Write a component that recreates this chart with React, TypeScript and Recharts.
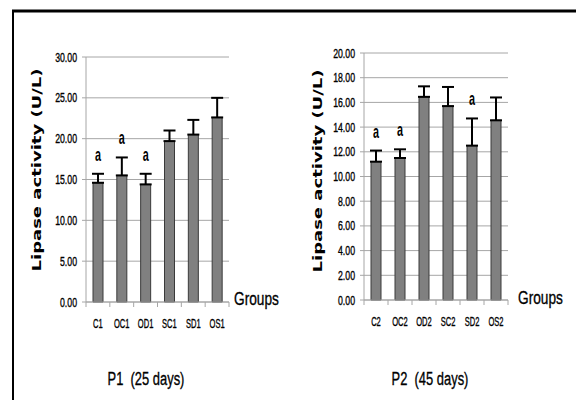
import React from "react";
import {
  BarChart,
  Bar,
  XAxis,
  YAxis,
  CartesianGrid,
  ErrorBar,
  LabelList,
} from "recharts";

const groupsP1 = ["C1", "OC1", "OD1", "SC1", "SD1", "OS1"];
const meansP1 = [14.6, 15.5, 14.4, 19.7, 20.5, 22.6];
const errsP1 = [1.1, 2.2, 1.3, 1.3, 1.8, 2.4];
const lettersP1 = ["a", "a", "a", "", "", ""];
const ticksP1 = [0, 5, 10, 15, 20, 25, 30];

const groupsP2 = ["C2", "OC2", "OD2", "SC2", "SD2", "OS2"];
const meansP2 = [11.2, 11.5, 16.45, 15.7, 12.5, 14.55];
const errsP2 = [0.9, 0.7, 0.85, 1.55, 2.2, 1.85];
const lettersP2 = ["a", "a", "", "", "a", ""];
const ticksP2 = [0, 2, 4, 6, 8, 10, 12, 14, 16, 18, 20];

const SANS = "'Liberation Sans', Arial, sans-serif";
const GRID = "#a6a6a6";

const build = (groups: string[], means: number[], errs: number[], letters: string[]) =>
  groups.map((g, i) => ({
    name: g,
    value: means[i],
    err: errs[i],
    range: [0, errs[i]],
    letter: letters[i],
  }));

const dataP1 = build(groupsP1, meansP1, errsP1, lettersP1);
const dataP2 = build(groupsP2, meansP2, errsP2, lettersP2);

// the source picture is squeezed sideways, so text is drawn narrowed
function Narrow({
  x,
  y,
  sx,
  anchor = "start",
  size,
  bold,
  children,
}: {
  x: number;
  y: number;
  sx: number;
  anchor?: "start" | "middle" | "end";
  size: number;
  bold?: boolean;
  children: React.ReactNode;
}) {
  return (
    <text
      transform={`translate(${x},${y}) scale(${sx},1)`}
      textAnchor={anchor}
      fontFamily={SANS}
      fontSize={size}
      fontWeight={bold ? "bold" : "normal"}
      fill="#000"
      stroke="#000"
      strokeWidth={bold ? 0 : 0.35}
      style={{ whiteSpace: "pre" }}
    >
      {children}
    </text>
  );
}

function makeXTick(band: number, last: string) {
  return (props: any) => {
    const { x, y, payload } = props;
    const top = y - 8;
    return (
      <g>
        <line x1={x - band / 2} x2={x - band / 2} y1={top} y2={top + 5} stroke={GRID} />
        {payload.value === last && (
          <line x1={x + band / 2} x2={x + band / 2} y1={top} y2={top + 5} stroke={GRID} />
        )}
        <Narrow x={x} y={top + 26} sx={0.58} anchor="middle" size={13}>
          {payload.value}
        </Narrow>
      </g>
    );
  };
}

const yTick = (props: any) => {
  const { x, y, payload } = props;
  return (
    <Narrow x={x} y={y + 4.5} sx={0.7} anchor="end" size={12.5}>
      {payload.value.toFixed(2)}
    </Narrow>
  );
};

function makeLetter(data: { err: number; value: number }[]) {
  return (props: any) => {
    const { x, y, width, height, value, index } = props;
    if (!value) return null;
    const d = data[index];
    const errPx = (d.err * height) / d.value;
    return (
      <Narrow x={x + width / 2} y={y - errPx - 13} sx={0.6} anchor="middle" size={18} bold>
        {value}
      </Narrow>
    );
  };
}

function Panel({
  data,
  ticks,
  max,
  width,
  margin,
  last,
}: {
  data: any[];
  ticks: number[];
  max: number;
  width: number;
  margin: { top: number; right: number; bottom: number; left: number };
  last: string;
}) {
  const plotW = width - margin.left - margin.right - 60;
  return (
    <BarChart width={width} height={400} data={data} margin={margin} barCategoryGap={0}>
      <CartesianGrid vertical={false} stroke={GRID} />
      <XAxis
        dataKey="name"
        height={30}
        stroke={GRID}
        tickLine={false}
        interval={0}
        tick={makeXTick(plotW / data.length, last)}
      />
      <YAxis
        width={60}
        domain={[0, max]}
        ticks={ticks}
        stroke={GRID}
        tickSize={4}
        tickMargin={5}
        tick={yTick}
      />
      <Bar
        dataKey="value"
        fill="#808080"
        stroke="#3a3a3a"
        strokeWidth={1}
        barSize={10}
        isAnimationActive={false}
      >
        <ErrorBar dataKey="range" width={6} stroke="#000" strokeWidth={2} direction="y" />
        <LabelList dataKey="letter" content={makeLetter(data)} />
      </Bar>
    </BarChart>
  );
}

export default function App() {
  return (
    <div
      style={{
        position: "absolute",
        left: 0,
        top: 0,
        width: 576,
        height: 400,
        background: "#fff",
        overflow: "hidden",
      }}
    >
      <div style={{ position: "absolute", left: 0, top: 0 }}>
        <Panel
          data={dataP1}
          ticks={ticksP1}
          max={30}
          width={290}
          margin={{ top: 57, right: 61, bottom: 68, left: 26 }}
          last="OS1"
        />
      </div>
      <div style={{ position: "absolute", left: 290, top: 0 }}>
        <Panel
          data={dataP2}
          ticks={ticksP2}
          max={20}
          width={286}
          margin={{ top: 53, right: 68, bottom: 70, left: 14 }}
          last="OS2"
        />
      </div>
      <svg
        width={576}
        height={400}
        style={{ position: "absolute", left: 0, top: 0, pointerEvents: "none" }}
      >
        <line x1={12} x2={576} y1={11} y2={11} stroke="#000" strokeWidth={3} />
        <line x1={13} x2={13} y1={10} y2={400} stroke="#000" strokeWidth={2} />
        <text
          transform="translate(40.5,170) rotate(-90) scale(1,0.73)"
          textAnchor="middle"
          fontFamily="'DejaVu Sans', sans-serif"
          fontWeight="bold"
          fontSize={18}
          fill="#000"
        >
          Lipase activity (U/L)
        </text>
        <text
          transform="translate(322,171) rotate(-90) scale(1,0.73)"
          textAnchor="middle"
          fontFamily="'DejaVu Sans', sans-serif"
          fontWeight="bold"
          fontSize={18}
          fill="#000"
        >
          Lipase activity (U/L)
        </text>
        <Narrow x={234} y={305} sx={0.72} size={19}>
          Groups
        </Narrow>
        <Narrow x={518} y={304} sx={0.72} size={19}>
          Groups
        </Narrow>
        <Narrow x={146} y={385} sx={0.68} anchor="middle" size={19}>
          P1  (25 days)
        </Narrow>
        <Narrow x={430} y={385} sx={0.68} anchor="middle" size={19}>
          P2  (45 days)
        </Narrow>
      </svg>
    </div>
  );
}
